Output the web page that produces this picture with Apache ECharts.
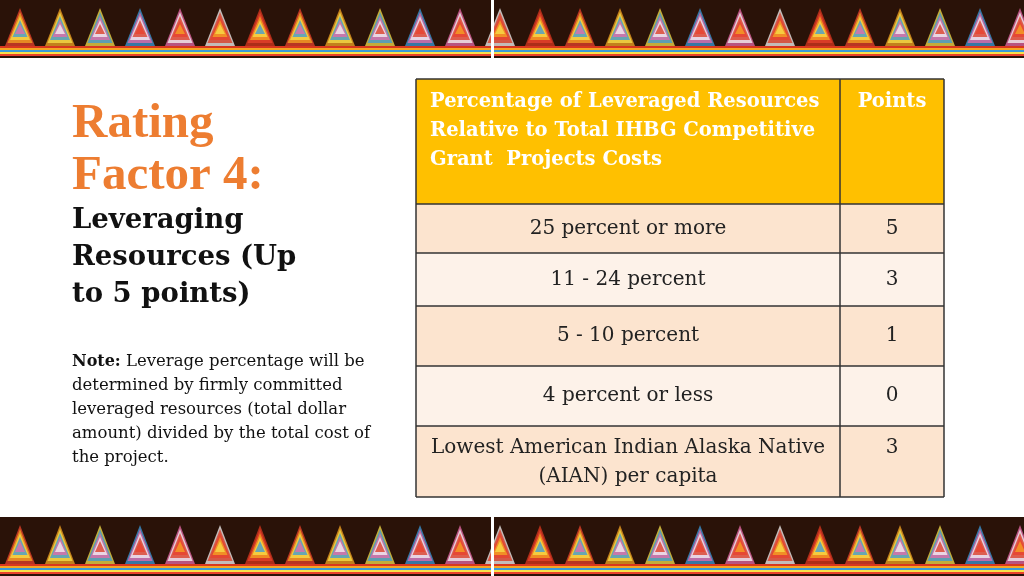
<!DOCTYPE html>
<html>
<head>
<meta charset="utf-8">
<script src="https://cdn.jsdelivr.net/npm/echarts@6/dist/echarts.min.js"></script>
<style>html,body{margin:0;padding:0;background:#fff}#main{width:1024px;height:576px}</style>
</head>
<body>
<div id="main"></div>
<script>
// table content
const headerLabels = ['Percentage of Leveraged Resources\nRelative to Total IHBG Competitive\nGrant  Projects Costs', 'Points'];
const rowLabels = ['25 percent or more', '11 - 24 percent', '5 - 10 percent', '4 percent or less', 'Lowest American Indian Alaska Native\n(AIAN) per capita'];
const rowPoints = ['5', '3', '1', '0', '3'];
const rowEdges = [204, 253, 306, 366, 426, 497];

const chart = echarts.init(document.getElementById('main'));
const serif = '"Liberation Serif", serif';
const wide = '"DejaVu Serif", serif';
const els = [];

// decorative banners
function banner(y0, h) {
  els.push({ type: 'rect', shape: { x: 0, y: y0, width: 1024, height: h }, style: { fill: '#2a1208' } });
  const cols = ['#e8412c', '#f5a623', '#f7e04a', '#3a9ad9', '#e86aa8', '#f5f5f5', '#d9371f'];
  for (let i = 0; i < 26; i++) {
    const cx = i * 40 + 20;
    for (let k = 0; k < 5; k++) {
      const w = 30 - k * 5;
      els.push({ type: 'polygon', shape: { points: [[cx - w / 2, y0 + h - 12 - k * 3], [cx, y0 + 8 + k * 4], [cx + w / 2, y0 + h - 12 - k * 3]] },
        style: { fill: cols[(i + k) % cols.length], opacity: 0.75 } });
    }
  }
  const bands = ['#d9371f', '#f5a623', '#3a9ad9', '#f7e04a', '#e8412c'];
  bands.forEach((c, k) => els.push({ type: 'rect', shape: { x: 0, y: y0 + h - 12 + k * 2, width: 1024, height: 2 }, style: { fill: c } }));
  els.push({ type: 'rect', shape: { x: 491, y: y0, width: 3, height: h }, style: { fill: '#fff' } });
}
banner(0, 58);
banner(517, 59);

// left text
els.push({ type: 'text', x: 72, y: 98, style: { text: 'Rating\nFactor 4:', font: 'bold 49px ' + serif, fill: '#ED7D31', lineHeight: 52 } });
els.push({ type: 'text', x: 72, y: 202, style: { text: 'Leveraging\nResources (Up\nto 5 points)', font: 'bold 27.5px ' + wide, fill: '#111', lineHeight: 37 } });
els.push({ type: 'text', x: 72, y: 350, style: {
  rich: { b: { font: 'bold 16px ' + wide, fill: '#111', lineHeight: 24 }, n: { font: '16.5px ' + wide, fill: '#111', lineHeight: 24 } },
  text: '{b|Note:}{n| Leverage percentage will be}\n{n|determined by firmly committed}\n{n|leveraged resources (total dollar}\n{n|amount) divided by the total cost of}\n{n|the project.}' } });

// table
const X0 = 416, X1 = 840, X2 = 944;
els.push({ type: 'rect', shape: { x: X0, y: 79, width: X2 - X0, height: 125 }, style: { fill: '#FFC000' } });
els.push({ type: 'text', x: 430, y: 87, style: { text: headerLabels[0], font: 'bold 19.5px ' + wide, fill: '#fff', lineHeight: 29 } });
els.push({ type: 'text', x: 892, y: 87, style: { text: headerLabels[1], font: 'bold 19.5px ' + wide, fill: '#fff', align: 'center', lineHeight: 29 } });
rowLabels.forEach((lab, i) => {
  const y = rowEdges[i], h = rowEdges[i + 1] - y;
  const fill = i % 2 === 0 ? '#FCE4CF' : '#FDF2E9';
  els.push({ type: 'rect', shape: { x: X0, y: y, width: X2 - X0, height: h }, style: { fill: fill } });
  const ty = i === 4 ? y + 7 : y + h / 2 - 14.5;
  els.push({ type: 'text', x: (X0 + X1) / 2, y: ty, style: { text: lab, font: '20px ' + wide, fill: '#222', align: 'center', lineHeight: 29 } });
  els.push({ type: 'text', x: (X1 + X2) / 2, y: ty, style: { text: rowPoints[i], font: '20px ' + wide, fill: '#222', align: 'center', lineHeight: 29 } });
});
// borders
const lineStyle = { stroke: '#333', lineWidth: 1.5 };
[79].concat(rowEdges).forEach(y => els.push({ type: 'line', shape: { x1: X0, y1: y, x2: X2, y2: y }, style: lineStyle }));
[X0, X1, X2].forEach(x => els.push({ type: 'line', shape: { x1: x, y1: 79, x2: x, y2: 497 }, style: lineStyle }));

chart.setOption({ animation: false, graphic: { elements: els } });
</script>
</body>
</html>
